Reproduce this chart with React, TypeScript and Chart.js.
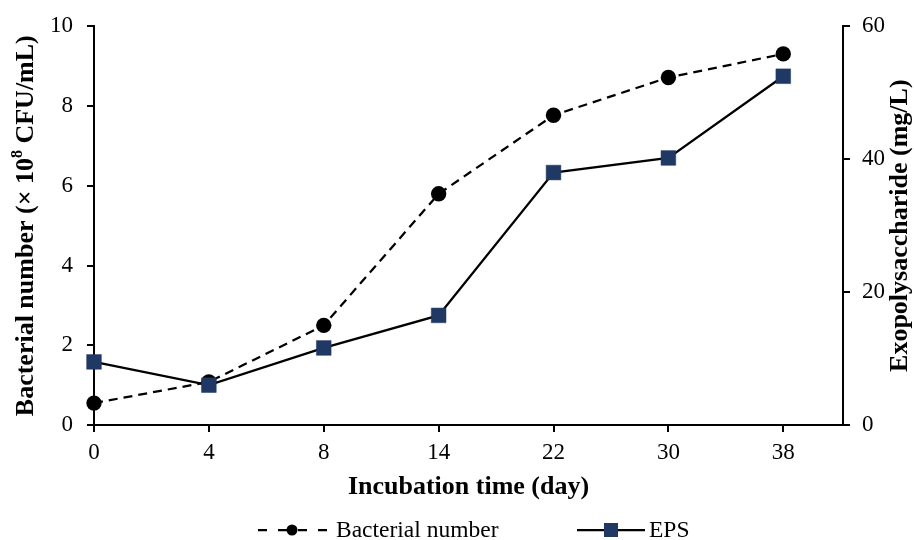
import React, { useEffect, useRef } from 'react';
import { Chart, registerables } from 'chart.js';

Chart.register(...registerables);

// ---- data ----
const days = ['0', '4', '8', '14', '22', '30', '38'];
const bacterialNumber = [0.55, 1.08, 2.5, 5.8, 7.77, 8.72, 9.31];
const epsValues = [9.5, 6.0, 11.6, 16.5, 38.0, 40.2, 52.5];
const leftTicks = [0, 2, 4, 6, 8, 10];
const rightTicks = [0, 20, 40, 60];

const seriesNames = ['Bacterial number', 'EPS'];
const xTitle = 'Incubation time (day)';
const leftTitleParts = ['Bacterial number (× 10', '8', ' CFU/mL)'];
const rightTitle = 'Exopolysaccharide (mg/L)';

const FONT = '"Liberation Serif", "Times New Roman", serif';
const NAVY = '#203864';

const decorPlugin = {
  id: 'decor',
  afterDraw(chart: any) {
    const ctx: CanvasRenderingContext2D = chart.ctx;
    const { top, bottom } = chart.chartArea;
    const midY = (top + bottom) / 2;
    ctx.save();
    ctx.fillStyle = '#000';
    ctx.textBaseline = 'middle';

    // left axis title with superscript
    const big = `bold 26px ${FONT}`;
    const small = `bold 16px ${FONT}`;
    const fonts = [big, small, big];
    const widths = leftTitleParts.map((t, i) => {
      ctx.font = fonts[i];
      return ctx.measureText(t).width;
    });
    const total = widths.reduce((a, b) => a + b, 0);
    ctx.save();
    ctx.translate(26, midY);
    ctx.rotate(-Math.PI / 2);
    let x = -total / 2;
    leftTitleParts.forEach((t, i) => {
      ctx.font = fonts[i];
      ctx.textAlign = 'left';
      ctx.fillText(t, x, i === 1 ? -8 : 0);
      x += widths[i];
    });
    ctx.restore();

    // right axis title
    ctx.save();
    ctx.translate(900, midY);
    ctx.rotate(-Math.PI / 2);
    ctx.font = big;
    ctx.textAlign = 'center';
    ctx.fillText(rightTitle, 0, 0);
    ctx.restore();

    // legend
    const ly = 530;
    ctx.strokeStyle = '#000';
    ctx.lineWidth = 2.25;
    ctx.setLineDash([9, 11]);
    ctx.beginPath();
    ctx.moveTo(258, ly);
    ctx.lineTo(327, ly);
    ctx.stroke();
    ctx.setLineDash([]);
    ctx.beginPath();
    ctx.arc(292, ly, 5.5, 0, Math.PI * 2);
    ctx.fillStyle = '#000';
    ctx.fill();

    ctx.beginPath();
    ctx.moveTo(577, ly);
    ctx.lineTo(645, ly);
    ctx.stroke();
    ctx.fillStyle = NAVY;
    ctx.fillRect(611 - 7, ly - 7, 14, 14);

    ctx.fillStyle = '#000';
    ctx.font = `23.5px ${FONT}`;
    ctx.textAlign = 'left';
    ctx.textBaseline = 'alphabetic';
    ctx.fillText(seriesNames[0], 336, 537);
    ctx.fillText(seriesNames[1], 649, 537);
    ctx.restore();
  },
};

export default function App() {
  const ref = useRef<HTMLCanvasElement | null>(null);

  useEffect(() => {
    if (!ref.current) return;
    const axisCommon = {
      grid: {
        display: true,
        drawOnChartArea: false,
        drawTicks: true,
        tickLength: 7,
        color: '#000',
        lineWidth: 2,
      },
      border: { display: true, color: '#000', width: 2 },
    };
    const chart = new Chart(ref.current, {
      type: 'line',
      data: {
        datasets: [
          {
            label: seriesNames[0],
            data: bacterialNumber.map((y, i) => ({ x: i, y })),
            yAxisID: 'y',
            order: 2,
            borderColor: '#000',
            borderWidth: 2.25,
            borderDash: [9, 6],
            tension: 0,
            pointStyle: 'circle',
            pointRadius: 7.7,
            pointBackgroundColor: '#000',
            pointBorderColor: '#000',
            pointBorderWidth: 0,
            clip: false,
          },
          {
            label: seriesNames[1],
            data: epsValues.map((y, i) => ({ x: i, y })),
            yAxisID: 'y1',
            order: 1,
            borderColor: '#000',
            borderWidth: 2.25,
            tension: 0,
            pointStyle: 'rect',
            pointRadius: 10.4,
            pointBackgroundColor: NAVY,
            pointBorderColor: NAVY,
            pointBorderWidth: 0.5,
            clip: false,
          },
        ],
      },
      options: {
        animation: false,
        responsive: false,
        layout: { padding: { top: 25, bottom: 35, left: 0, right: 0 } },
        plugins: {
          legend: { display: false },
          tooltip: { enabled: false },
        },
        scales: {
          x: {
            type: 'linear',
            position: 'bottom',
            min: 0,
            max: 6.52,
            afterBuildTicks: (s: any) => {
              s.ticks = days.map((_, i) => ({ value: i }));
            },
            afterFit: (s: any) => {
              s.height = 80;
            },
            ticks: {
              autoSkip: false,
              maxRotation: 0,
              color: '#000',
              padding: 7,
              font: { family: FONT, size: 23 },
              callback: (v: any) => days[v] ?? '',
            },
            title: {
              display: true,
              text: xTitle,
              color: '#000',
              font: { family: FONT, size: 26, weight: 'bold' },
              padding: { top: 0, bottom: 2 },
            },
            ...axisCommon,
          },
          y: {
            type: 'linear',
            position: 'left',
            min: 0,
            max: 10,
            afterBuildTicks: (s: any) => {
              s.ticks = leftTicks.map((v) => ({ value: v }));
            },
            afterFit: (s: any) => {
              s.width = 94;
            },
            ticks: {
              color: '#000',
              padding: 14,
              font: { family: FONT, size: 23, lineHeight: 1.08 },
            },
            ...axisCommon,
          },
          y1: {
            type: 'linear',
            position: 'right',
            min: 0,
            max: 60,
            afterBuildTicks: (s: any) => {
              s.ticks = rightTicks.map((v) => ({ value: v }));
            },
            afterFit: (s: any) => {
              s.width = 71;
            },
            ticks: {
              color: '#000',
              padding: 12,
              font: { family: FONT, size: 23, lineHeight: 1.08 },
            },
            ...axisCommon,
          },
        },
      },
      plugins: [decorPlugin],
    } as any);
    return () => chart.destroy();
  }, []);

  return (
    <div style={{ position: 'absolute', left: 0, top: 0, width: 914, height: 540, background: '#fff' }}>
      <canvas ref={ref} width={914} height={540} />
    </div>
  );
}
